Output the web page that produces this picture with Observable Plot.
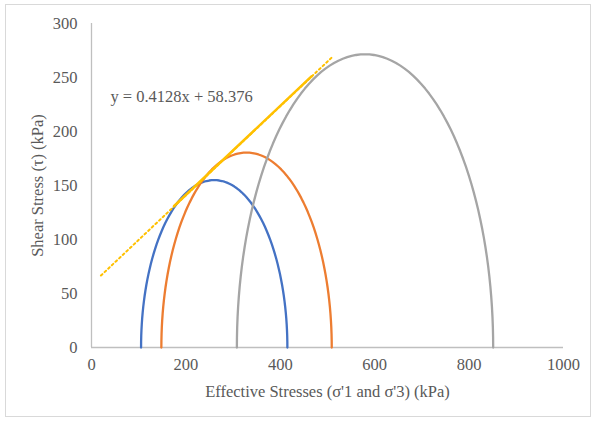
<!DOCTYPE html>
<html>
<head>
<meta charset="utf-8">
<script src="https://cdn.jsdelivr.net/npm/d3@7"></script>
<script src="https://cdn.jsdelivr.net/npm/@observablehq/plot@0.6"></script>
<style>
  html, body { margin: 0; padding: 0; background: #fff; }
  #wrap { position: relative; width: 595px; height: 421px; }
  #border { position: absolute; left: 5px; top: 4px; width: 586px; height: 413px; border: 1px solid #d9d9d9; box-sizing: border-box; }
  #chart { position: absolute; left: 0; top: 0; }
</style>
</head>
<body>
<div id="wrap"><div id="border"></div><div id="chart"></div></div>
<script>
// Mohr circles: minor and major effective principal stresses (kPa)
const series = ["Test 1", "Test 2", "Test 3"];
const sigma3 = [105, 148, 308];
const sigma1 = [415, 509, 851];
const colors = ["#4472C4", "#ED7D31", "#A5A5A5"];

// Failure envelope (solid segment) points
const envX = [175, 466];
const envY = [131, 251];

// Linear trendline shown on chart
const slope = 0.4128;
const intercept = 58.376;
const trendRange = [20, 512];
const equationText = "y = 0.4128x + 58.376";

const xTicks = [0, 200, 400, 600, 800, 1000];
const yTicks = [0, 50, 100, 150, 200, 250, 300];

// Build semicircle points from each test's principal stresses
const circles = [];
series.forEach((s, i) => {
  const c = (sigma1[i] + sigma3[i]) / 2, r = (sigma1[i] - sigma3[i]) / 2;
  const n = 90;
  for (let k = 0; k <= n; k++) {
    const a = Math.PI - Math.PI * k / n;
    circles.push({series: s, x: c + r * Math.cos(a), y: r * Math.sin(a)});
  }
});
const env = envX.map((x, i) => ({x, y: envY[i]}));
const trend = trendRange.map(x => ({x, y: slope * x + intercept}));

const font = "'Liberation Serif', 'Times New Roman', serif";
const textColor = "#595959";
const fs = 16.5;

const chart = Plot.plot({
  width: 595,
  height: 421,
  marginLeft: 91,
  marginRight: 32,
  marginTop: 23,
  marginBottom: 74,
  style: {fontFamily: font, fontSize: fs + "px", color: textColor, background: "transparent"},
  x: {domain: [0, 1000]},
  y: {domain: [0, 300]},
  color: {domain: series, range: colors},
  marks: [
    Plot.ruleY([0], {stroke: "#bfbfbf", strokeWidth: 1.3}),
    Plot.ruleX([0], {stroke: "#bfbfbf", strokeWidth: 1.3}),
    Plot.axisX({ticks: xTicks, tickSize: 0, tickPadding: 11, tickFormat: d => String(d), label: null, fill: textColor, fontSize: fs}),
    Plot.axisY({ticks: yTicks, tickSize: 0, tickPadding: 14, tickFormat: d => String(d), label: null, fill: textColor, fontSize: fs}),
    Plot.line(circles, {x: "x", y: "y", z: "series", stroke: "series", strokeWidth: 2.3}),
    Plot.line(trend, {x: "x", y: "y", stroke: "#FFC000", strokeWidth: 2, strokeDasharray: "2 3"}),
    Plot.line(env, {x: "x", y: "y", stroke: "#FFC000", strokeWidth: 2.5}),
    Plot.text([equationText], {x: 40, y: 232, textAnchor: "start", fill: textColor, fontSize: fs}),
    Plot.text(["Shear Stress (τ) (kPa)"], {frameAnchor: "left", dx: -54, rotate: -90, textAnchor: "middle", lineAnchor: "middle", fill: textColor, fontSize: fs}),
    Plot.text(["Effective Stresses (σ'1 and σ'3) (kPa)"], {frameAnchor: "bottom", dy: 44, textAnchor: "middle", lineAnchor: "middle", fill: textColor, fontSize: fs})
  ]
});
document.getElementById("chart").appendChild(chart);
</script>
</body>
</html>
